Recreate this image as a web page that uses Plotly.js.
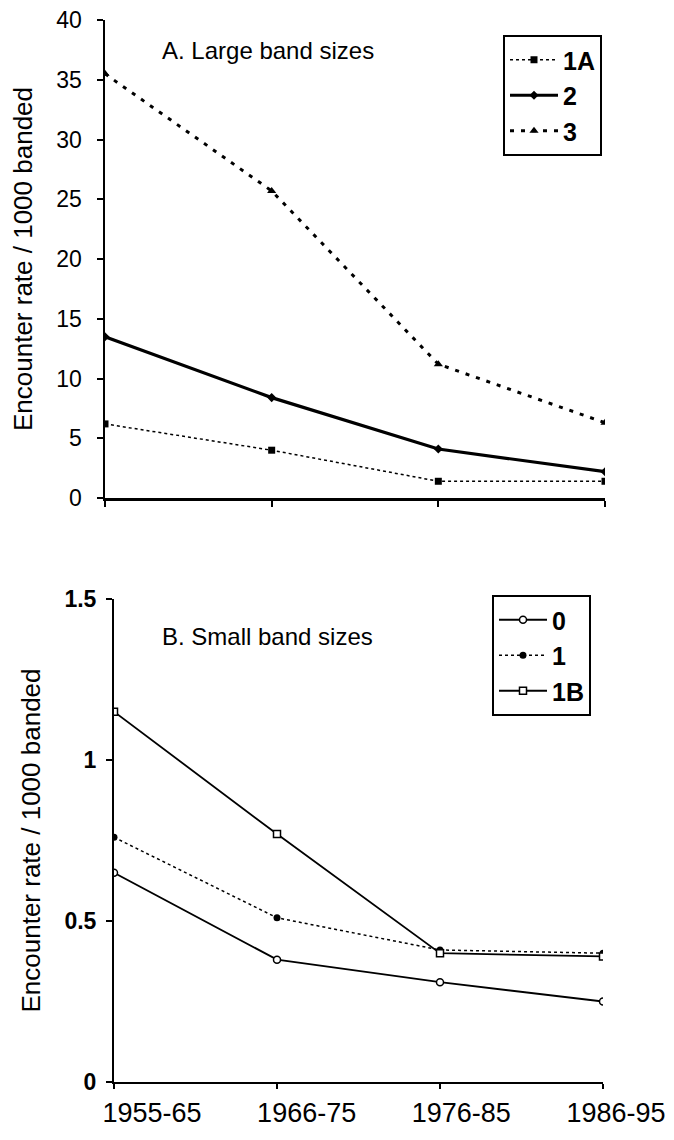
<!DOCTYPE html>
<html>
<head>
<meta charset="utf-8">
<script src="https://cdn.plot.ly/plotly-3.0.1.min.js"></script>
<style>html,body{margin:0;padding:0;background:#fff;}#chart{width:674px;height:1140px;}</style>
</head>
<body>
<div id="chart"></div>
<script>
const periods = ['1955-65', '1966-75', '1976-85', '1986-95'];
// Panel A: large band sizes
const band1A = [6.2, 4.0, 1.4, 1.4];
const band2 = [13.5, 8.4, 4.1, 2.2];
const band3 = [35.5, 25.7, 11.2, 6.3];
// Panel B: small band sizes
const band0 = [0.65, 0.38, 0.31, 0.25];
const band1 = [0.76, 0.51, 0.41, 0.40];
const band1B = [1.15, 0.77, 0.40, 0.39];
const topTicks = [0, 5, 10, 15, 20, 25, 30, 35, 40];
const bottomTicks = [0, 0.5, 1, 1.5];
const yTitle = 'Encounter rate / 1000 banded';

const W = 674, H = 1140;
const FONT = 'Liberation Sans, Arial, sans-serif';

const traces = [
  {x: periods, y: band1A, name: '1A', xaxis: 'x', yaxis: 'y', legend: 'legend', mode: 'lines+markers',
   line: {color: '#000', width: 1.5, dash: 'dot'}, marker: {symbol: 'square', size: 7, color: '#000'}},
  {x: periods, y: band2, name: '2', xaxis: 'x', yaxis: 'y', legend: 'legend', mode: 'lines+markers',
   line: {color: '#000', width: 3.2}, marker: {symbol: 'diamond', size: 7, color: '#000'}},
  {x: periods, y: band3, name: '3', xaxis: 'x', yaxis: 'y', legend: 'legend', mode: 'lines+markers',
   line: {color: '#000', width: 3, dash: '4px,7px'}, marker: {symbol: 'triangle-up', size: 8, color: '#000'}},
  {x: periods, y: band0, name: '0', xaxis: 'x2', yaxis: 'y2', legend: 'legend2', mode: 'lines+markers',
   line: {color: '#000', width: 1.8}, marker: {symbol: 'circle', size: 7, color: '#fff', line: {color: '#000', width: 1.5}}},
  {x: periods, y: band1, name: '1', xaxis: 'x2', yaxis: 'y2', legend: 'legend2', mode: 'lines+markers',
   line: {color: '#000', width: 1.5, dash: 'dot'}, marker: {symbol: 'circle', size: 7, color: '#000'}},
  {x: periods, y: band1B, name: '1B', xaxis: 'x2', yaxis: 'y2', legend: 'legend2', mode: 'lines+markers',
   line: {color: '#000', width: 1.8}, marker: {symbol: 'square', size: 7, color: '#fff', line: {color: '#000', width: 1.5}}},
  // invisible helper carrying the category labels of the lower panel
  {x: periods, y: band0, xaxis: 'x3', yaxis: 'y2', mode: 'lines', line: {width: 0}, opacity: 0,
   showlegend: false, hoverinfo: 'skip'}
];

function px(x) { return x / W; }
function py(y) { return 1 - y / H; }

const layout = {
  width: W, height: H,
  margin: {l: 0, r: 0, t: 0, b: 0},
  paper_bgcolor: '#fff', plot_bgcolor: 'rgba(0,0,0,0)',
  font: {family: FONT, color: '#000', size: 22},
  showlegend: true,
  xaxis: {domain: [px(105), px(605)], anchor: 'y', type: 'category', range: [0, 3],
    showline: true, linecolor: '#000', linewidth: 2.5, ticks: 'outside', ticklen: 6, tickwidth: 2,
    tickcolor: '#000', showticklabels: false, showgrid: false, zeroline: false},
  yaxis: {domain: [py(498), py(20)], anchor: 'x', range: [0, 40], tickvals: topTicks,
    showline: true, linecolor: '#000', linewidth: 2.5, ticks: 'outside', ticklen: 6, tickwidth: 2,
    tickcolor: '#000', showgrid: false, zeroline: false, tickfont: {size: 23}, ticklabelstandoff: 10,
    title: {text: yTitle, font: {size: 26}, standoff: 16}},
  xaxis2: {domain: [px(114), px(603)], anchor: 'y2', type: 'category', range: [0, 3],
    showline: true, linecolor: '#000', linewidth: 2, ticks: 'outside', ticklen: 5, tickwidth: 2,
    tickcolor: '#000', showgrid: false, zeroline: false, showticklabels: false},
  xaxis3: {domain: [px(152), px(616)], anchor: 'y2', type: 'category', range: [0, 3],
    showline: false, ticks: '', showgrid: false, zeroline: false, tickfont: {size: 27},
    ticklabelstandoff: 12},
  yaxis2: {domain: [py(1082), py(599)], anchor: 'x2', range: [0, 1.5], tickvals: bottomTicks,
    showline: true, linecolor: '#000', linewidth: 2, ticks: 'outside', ticklen: 6, tickwidth: 2,
    tickcolor: '#000', showgrid: false, zeroline: false, ticklabelstandoff: 5,
    tickfont: {size: 23, family: FONT, weight: 'bold'},
    title: {text: yTitle, font: {size: 26}, standoff: 16}},
  legend: {x: px(503), y: py(35), xanchor: 'left', yanchor: 'top', bgcolor: '#fff',
    bordercolor: '#000', borderwidth: 2, font: {size: 25, weight: 'bold'}, tracegroupgap: 0,
    itemwidth: 48},
  legend2: {x: px(492), y: py(595), xanchor: 'left', yanchor: 'top', bgcolor: '#fff',
    bordercolor: '#000', borderwidth: 2, font: {size: 25, weight: 'bold'}, tracegroupgap: 0,
    itemwidth: 48},
  annotations: [
    {text: 'A. Large band sizes', xref: 'paper', yref: 'paper', x: px(160), y: py(50),
     xanchor: 'left', yanchor: 'middle', showarrow: false, font: {size: 24}},
    {text: 'B. Small band sizes', xref: 'paper', yref: 'paper', x: px(160), y: py(636),
     xanchor: 'left', yanchor: 'middle', showarrow: false, font: {size: 24}}
  ]
};

Plotly.newPlot('chart', traces, layout, {staticPlot: true});
</script>
</body>
</html>
